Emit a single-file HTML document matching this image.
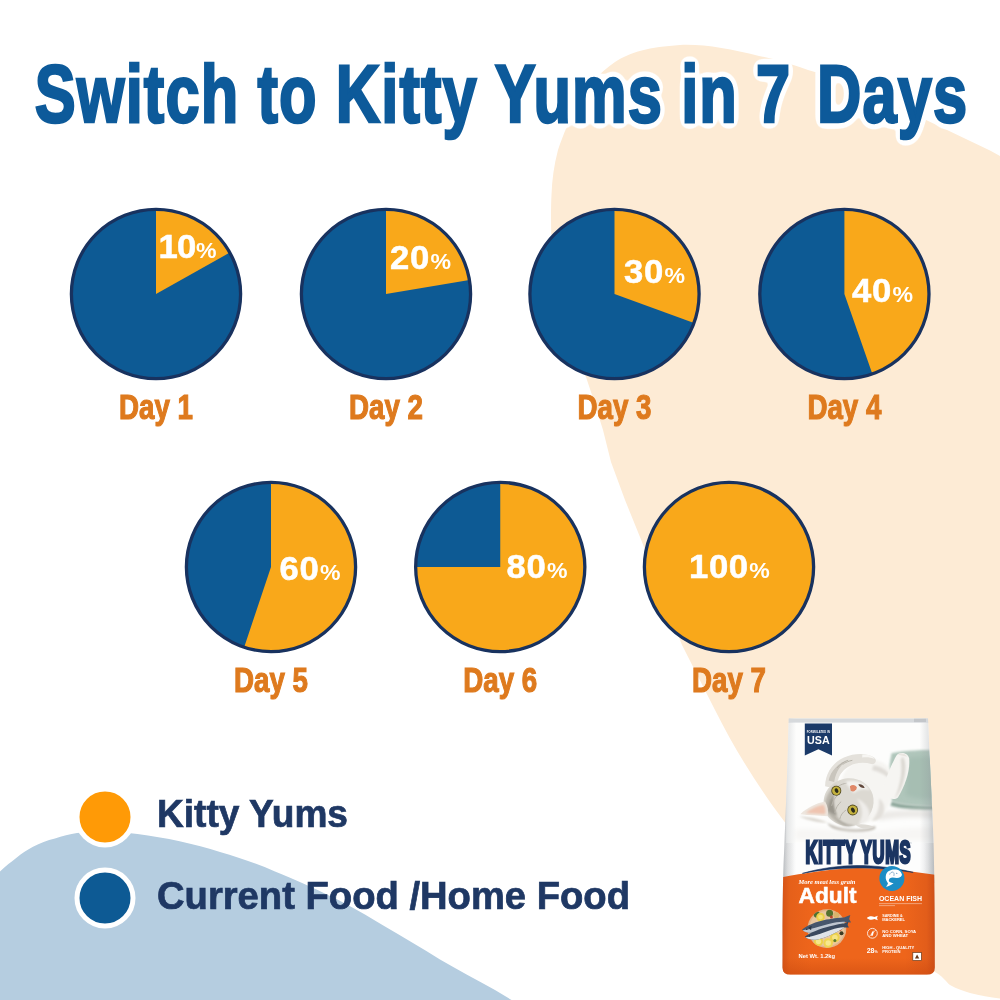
<!DOCTYPE html>
<html lang="en"><head><meta charset="utf-8"><title>Switch to Kitty Yums in 7 Days</title>
<style>
html,body{margin:0;padding:0;background:#fff;}
body{width:1000px;height:1000px;overflow:hidden;font-family:"Liberation Sans",Arial,sans-serif;}
svg{display:block}
</style></head><body>
<svg width="1000" height="1000" viewBox="0 0 1000 1000">
<defs>
<filter id="ft" x="-3%" y="-30%" width="106%" height="160%" color-interpolation-filters="sRGB">
<feGaussianBlur in="SourceAlpha" stdDeviation="5.2 4" result="w1"/>
<feComponentTransfer in="w1" result="w2"><feFuncA type="linear" slope="20" intercept="-1.3"/></feComponentTransfer>
<feFlood flood-color="#fff"/><feComposite in2="w2" operator="in" result="w"/>
<feMerge><feMergeNode in="w"/><feMergeNode in="SourceGraphic"/></feMerge>
</filter>
</defs>
<rect width="1000" height="1000" fill="#fff"/>

<path fill="#fdebd5" d="M1000 156 L990 150.5 L924 119 C 880 98 840 78 808 70 C 790 64 775 59 759 56 C 730 49 705 44 680 45 C 650 47 630 52 615 62 C 598 74 588 86 580 100 C 570 118 563 135 558 150 C 554 165 552 180 551.5 195 C 550.5 215 551 240 553 260 C 555 280 557 295 560 310 C 563 325 567 338 572 350 C 577 362 582 370 586 377 L 592 395 L 603 430 L 611 462 L 625 500 L 642 542 L 662 595 L 682 645 L 715 710 C 735 750 760 790 787 825 C 815 862 850 912 890 948 C 905 961 920 968 934 971.5 C 942 975 946 982 950 985 C 957 989 964 991 970 993 C 980 995.5 990 997.5 1000 998.5 Z"/>
<path fill="#b5cde0" d="M0 871.5 C 6 866 11 862 16.5 857.8 C 22 853 27 850 33 846.8 C 40 843 47 840.5 55 838.5 C 62 836 70 834 77 833 C 97 831 117 831.5 137.5 834 C 165 837.5 195 844 220 852 C 240 858 258 864 275 871.5 C 295 879.5 312 887 330 896 C 350 905.5 367 915.5 385 926.5 C 403 937 422 948 440 959.5 C 458 970 477 980 495 990 L 511.5 1000 L 0 1000 Z"/>
<g transform="translate(34.8 121.5) scale(0.7485 1)"><text x="0" y="0" font-family="Liberation Sans, Arial, Helvetica, sans-serif" font-weight="700" font-size="82" letter-spacing="1.5" fill="#0d5a9a" stroke="#0d5a9a" stroke-width="2.6" stroke-linejoin="miter" filter="url(#ft)">Switch to Kitty Yums in 7 <tspan dx="10">Days</tspan></text></g>
<circle cx="156" cy="294" r="84.6" fill="#0d5a94"/>
<path d="M156 294 L156 209.4 A84.6 84.6 0 0 1 229.78 252.60 Z" fill="#f9a81a"/>
<circle cx="156" cy="294" r="84.6" fill="none" stroke="#18325f" stroke-width="3.3"/>
<g transform="translate(158.5 257.7) scale(1.05 1)"><text x="0" y="0" fill="#fff" font-family="Liberation Sans, Arial, Helvetica, sans-serif" font-weight="700" font-size="33" letter-spacing="-0.8" stroke="#fff" stroke-width="0.5">10<tspan font-size="22" dx="0.6" stroke-width="0">%</tspan></text></g>
<g transform="translate(156 420) scale(0.77 1)"><text x="0" y="-1.4" text-anchor="middle" fill="#de7a1e" stroke="#de7a1e" stroke-width="1.2" font-family="Liberation Sans, Arial, Helvetica, sans-serif" font-weight="700" font-size="36">Day 1</text></g>
<circle cx="386" cy="294" r="84.6" fill="#0d5a94"/>
<path d="M386 294 L386 209.4 A84.6 84.6 0 0 1 469.42 279.89 Z" fill="#f9a81a"/>
<circle cx="386" cy="294" r="84.6" fill="none" stroke="#18325f" stroke-width="3.3"/>
<g transform="translate(390 269.2) scale(1.05 1)"><text x="0" y="0" fill="#fff" font-family="Liberation Sans, Arial, Helvetica, sans-serif" font-weight="700" font-size="33" letter-spacing="0.6" stroke="#fff" stroke-width="0.5">20<tspan font-size="22" dx="0.6" stroke-width="0">%</tspan></text></g>
<g transform="translate(386 420) scale(0.77 1)"><text x="0" y="-1.4" text-anchor="middle" fill="#de7a1e" stroke="#de7a1e" stroke-width="1.2" font-family="Liberation Sans, Arial, Helvetica, sans-serif" font-weight="700" font-size="36">Day 2</text></g>
<circle cx="614.5" cy="294" r="84.6" fill="#0d5a94"/>
<path d="M614.5 294 L614.5 209.4 A84.6 84.6 0 0 1 694.00 322.93 Z" fill="#f9a81a"/>
<circle cx="614.5" cy="294" r="84.6" fill="none" stroke="#18325f" stroke-width="3.3"/>
<g transform="translate(624 283.45) scale(1.05 1)"><text x="0" y="0" fill="#fff" font-family="Liberation Sans, Arial, Helvetica, sans-serif" font-weight="700" font-size="33" letter-spacing="0.6" stroke="#fff" stroke-width="0.5">30<tspan font-size="22" dx="0.6" stroke-width="0">%</tspan></text></g>
<g transform="translate(614.5 420) scale(0.77 1)"><text x="0" y="-1.4" text-anchor="middle" fill="#de7a1e" stroke="#de7a1e" stroke-width="1.2" font-family="Liberation Sans, Arial, Helvetica, sans-serif" font-weight="700" font-size="36">Day 3</text></g>
<circle cx="844.4" cy="294" r="84.6" fill="#0d5a94"/>
<path d="M844.4 294 L844.4 209.4 A84.6 84.6 0 0 1 872.29 373.87 Z" fill="#f9a81a"/>
<circle cx="844.4" cy="294" r="84.6" fill="none" stroke="#18325f" stroke-width="3.3"/>
<g transform="translate(852 302.2) scale(1.05 1)"><text x="0" y="0" fill="#fff" font-family="Liberation Sans, Arial, Helvetica, sans-serif" font-weight="700" font-size="33" letter-spacing="0.6" stroke="#fff" stroke-width="0.5">40<tspan font-size="22" dx="0.6" stroke-width="0">%</tspan></text></g>
<g transform="translate(844.4 420) scale(0.77 1)"><text x="0" y="-1.4" text-anchor="middle" fill="#de7a1e" stroke="#de7a1e" stroke-width="1.2" font-family="Liberation Sans, Arial, Helvetica, sans-serif" font-weight="700" font-size="36">Day 4</text></g>
<circle cx="271" cy="567" r="84.6" fill="#0d5a94"/>
<path d="M271 567 L271 482.4 A84.6 84.6 0 1 1 244.16 647.23 Z" fill="#f9a81a"/>
<circle cx="271" cy="567" r="84.6" fill="none" stroke="#18325f" stroke-width="3.3"/>
<g transform="translate(279.5 580.45) scale(1.05 1)"><text x="0" y="0" fill="#fff" font-family="Liberation Sans, Arial, Helvetica, sans-serif" font-weight="700" font-size="33" letter-spacing="0.6" stroke="#fff" stroke-width="0.5">60<tspan font-size="22" dx="0.6" stroke-width="0">%</tspan></text></g>
<g transform="translate(271 693) scale(0.77 1)"><text x="0" y="-1.4" text-anchor="middle" fill="#de7a1e" stroke="#de7a1e" stroke-width="1.2" font-family="Liberation Sans, Arial, Helvetica, sans-serif" font-weight="700" font-size="36">Day 5</text></g>
<circle cx="500.25" cy="567" r="84.6" fill="#0d5a94"/>
<path d="M500.25 567 L500.25 482.4 A84.6 84.6 0 1 1 415.65 567.00 Z" fill="#f9a81a"/>
<circle cx="500.25" cy="567" r="84.6" fill="none" stroke="#18325f" stroke-width="3.3"/>
<g transform="translate(506.5 578.45) scale(1.05 1)"><text x="0" y="0" fill="#fff" font-family="Liberation Sans, Arial, Helvetica, sans-serif" font-weight="700" font-size="33" letter-spacing="0.6" stroke="#fff" stroke-width="0.5">80<tspan font-size="22" dx="0.6" stroke-width="0">%</tspan></text></g>
<g transform="translate(500.25 693) scale(0.77 1)"><text x="0" y="-1.4" text-anchor="middle" fill="#de7a1e" stroke="#de7a1e" stroke-width="1.2" font-family="Liberation Sans, Arial, Helvetica, sans-serif" font-weight="700" font-size="36">Day 6</text></g>
<circle cx="729" cy="567" r="84.6" fill="#f9a81a"/>
<circle cx="729" cy="567" r="84.6" fill="none" stroke="#18325f" stroke-width="3.3"/>
<g transform="translate(689 578.45) scale(1.05 1)"><text x="0" y="0" fill="#fff" font-family="Liberation Sans, Arial, Helvetica, sans-serif" font-weight="700" font-size="33" letter-spacing="0.6" stroke="#fff" stroke-width="0.5">100<tspan font-size="22" dx="0.6" stroke-width="0">%</tspan></text></g>
<g transform="translate(729 693) scale(0.77 1)"><text x="0" y="-1.4" text-anchor="middle" fill="#de7a1e" stroke="#de7a1e" stroke-width="1.2" font-family="Liberation Sans, Arial, Helvetica, sans-serif" font-weight="700" font-size="36">Day 7</text></g>
<circle cx="105" cy="817" r="28" fill="#ff9a06" stroke="#fff" stroke-width="5"/>
<circle cx="105" cy="898" r="28" fill="#0d5a94" stroke="#fff" stroke-width="5"/>
<text x="157" y="827" font-family="Liberation Sans, Arial, Helvetica, sans-serif" font-weight="700" font-size="38" fill="#1f3864" stroke="#1f3864" stroke-width="0.7" textLength="191" lengthAdjust="spacingAndGlyphs">Kitty Yums</text>
<text x="157" y="908.6" font-family="Liberation Sans, Arial, Helvetica, sans-serif" font-weight="700" font-size="38" fill="#1f3864" stroke="#1f3864" stroke-width="0.7" textLength="473" lengthAdjust="spacingAndGlyphs">Current Food /Home Food</text>
<defs>
<clipPath id="bagclip"><path d="M788.8 718.6 L928 718.6 C929 745 931.4 790 933 828 C934.2 858 934.8 900 934.8 940 L934.8 967.5 Q934.8 974.6 926.8 974.6 L790.5 974.6 Q782.5 974.6 782.5 967.5 L782.5 940 C782.5 900 783.2 868 784.4 845 C786 805 788 755 788.8 718.6 Z"/></clipPath>
<linearGradient id="bagw" x1="0" x2="1" y1="0" y2="0">
<stop offset="0" stop-color="#cfd1d3"/><stop offset="0.035" stop-color="#ececec"/><stop offset="0.09" stop-color="#fdfdfd"/><stop offset="0.9" stop-color="#fdfdfd"/><stop offset="0.955" stop-color="#e9e9e9"/><stop offset="1" stop-color="#c9cacc"/>
</linearGradient>
<linearGradient id="bago" x1="0" x2="1" y1="0" y2="0">
<stop offset="0" stop-color="#cf4f17"/><stop offset="0.06" stop-color="#e5601a"/><stop offset="0.2" stop-color="#ee651b"/><stop offset="0.8" stop-color="#ee651b"/><stop offset="0.94" stop-color="#e25d1a"/><stop offset="1" stop-color="#cb4d17"/>
</linearGradient>
<linearGradient id="bagob" x1="0" x2="0" y1="0" y2="1">
<stop offset="0" stop-color="#c9480f" stop-opacity="0"/><stop offset="1" stop-color="#c9480f" stop-opacity="0.55"/>
</linearGradient>
<linearGradient id="bagsh" x1="0" x2="1" y1="0" y2="0">
<stop offset="0" stop-color="#8f959b" stop-opacity="0.5"/><stop offset="0.035" stop-color="#8f959b" stop-opacity="0.2"/><stop offset="0.09" stop-color="#8f959b" stop-opacity="0"/><stop offset="0.9" stop-color="#8f959b" stop-opacity="0"/><stop offset="0.955" stop-color="#8f959b" stop-opacity="0.22"/><stop offset="1" stop-color="#8f959b" stop-opacity="0.55"/>
</linearGradient>
<linearGradient id="bed" x1="0" x2="0" y1="0" y2="1">
<stop offset="0" stop-color="#ffffff"/><stop offset="0.6" stop-color="#fbfaf9"/><stop offset="0.85" stop-color="#f1efec"/><stop offset="1" stop-color="#fafafa"/>
</linearGradient>
<filter id="b1" x="-20%" y="-20%" width="140%" height="140%"><feGaussianBlur stdDeviation="1"/></filter>
<filter id="b2" x="-20%" y="-20%" width="140%" height="140%"><feGaussianBlur stdDeviation="2"/></filter>
<filter id="b07" x="-20%" y="-20%" width="140%" height="140%"><feGaussianBlur stdDeviation="0.7"/></filter>
<filter id="b05" x="-20%" y="-20%" width="140%" height="140%"><feGaussianBlur stdDeviation="0.5"/></filter>
<clipPath id="photoclip"><rect x="782" y="723" width="156" height="119"/></clipPath>
<clipPath id="plate"><circle cx="826.9" cy="928.7" r="19.4"/></clipPath>
</defs>
<g clip-path="url(#bagclip)">
<rect x="780" y="715" width="160" height="285" fill="url(#bagw)"/>
<!-- photo -->
<rect x="786" y="723" width="150" height="120" fill="#fdfdfc"/>
<g clip-path="url(#photoclip)">
<path d="M891.6 753.3 C901.4 750.9 918.2 750.1 935.0 749.8 L935.0 805.8 C921.0 806.5 904.2 805.1 891.6 801.6 C888.1 786.2 888.1 768.0 891.6 753.3 Z" fill="#b0c6bb" filter="url(#b1)"/>
<path d="M907.0 758.2 C916.8 756.1 926.6 756.1 935.0 757.5 L935.0 798.8 C925.2 800.2 914.0 798.8 905.6 795.3 Z" fill="#a6beb2" filter="url(#b2)"/>
<path d="M891.6 801.6 C904.2 805.1 921.0 806.5 935.0 805.8 L935.0 810.0 C919.6 811.4 902.8 809.3 890.2 805.8 Z" fill="#90a99d" filter="url(#b1)"/>
<path d="M827.2 822.6 C837.0 829.6 862.2 831.7 874.8 826.1 C879.0 829.6 867.8 833.1 853.8 833.1 C839.8 832.4 830.0 829.6 827.2 822.6 Z" fill="#c2bdb5" filter="url(#b1)"/>
<path d="M799.2 816.3 C807.6 817.0 818.8 818.4 827.2 822.6 C818.8 822.6 807.6 820.5 799.2 816.3 Z" fill="#d9d5ce" filter="url(#b1)"/>
<path d="M879.0 812.8 C893.0 810.0 914.0 809.3 935.0 810.7 L935.0 818.4 C915.4 816.3 895.8 817.0 879.0 820.5 Z" fill="#ebe9e6" filter="url(#b2)"/>
<path d="M795.0 829.6 C823.0 825.4 851.0 836.6 893.0 829.6 C907.0 827.5 921.0 828.2 935.0 826.8 L935.0 840.0 L795.0 840.0 Z" fill="#f7f6f4" filter="url(#b2)"/>
<path d="M841.2 786.2 C841.2 772.2 851.0 761.0 865.0 759.6 C879.0 758.2 890.2 763.8 893.0 776.4 C895.1 789.0 891.6 803.0 884.6 812.8 C879.0 819.8 870.6 822.6 865.0 821.2 C853.8 807.2 842.6 798.8 841.2 786.2 Z" fill="#f6f5f2" filter="url(#b1)"/>
<path d="M873.4 765.2 C883.2 766.6 890.2 772.2 891.6 780.6 C886.0 775.0 879.0 771.5 872.0 770.1 Z" fill="#e0ddd8" filter="url(#b1)"/>
<path d="M879.0 798.8 C884.6 801.6 886.0 810.0 881.8 817.0 C879.0 819.8 874.8 821.2 872.0 820.5 C877.6 814.2 879.7 807.2 879.0 798.8 Z" fill="#e3e0db" filter="url(#b1)"/>
<path d="M825.1 786.2 C825.1 773.6 832.8 762.4 844.0 757.5 C855.2 752.6 867.8 753.3 874.1 757.5 C877.6 760.3 875.5 764.5 871.3 764.1 C862.2 761.0 851.0 763.1 844.0 770.1 C838.4 775.7 837.0 782.0 837.0 789.0 Z" fill="#e4e1db" filter="url(#b07)"/>
<path d="M828.6 780.6 C830.7 770.8 838.4 763.1 848.2 759.6 C841.2 764.5 835.6 771.5 834.2 782.0 Z" fill="#c9c5bd" filter="url(#b07)"/>
<path d="M837.0 768.0 C839.8 764.5 844.0 761.7 848.2 760.3 M842.6 764.5 C845.4 762.4 848.9 761.0 852.4 760.3" fill="none" stroke="#b9b5ac" stroke-width="1" filter="url(#b05)"/>
<path d="M862.2 754.7 C867.8 754.0 872.7 756.1 874.8 758.9 C871.3 757.5 866.4 756.8 862.2 757.5 Z" fill="#f7f6f3" filter="url(#b07)"/>
<path d="M883.2 787.6 C886.0 777.8 891.6 763.8 896.5 755.4 C900.0 751.2 907.7 752.6 909.1 758.2 C910.5 769.4 905.6 784.8 897.9 797.4 C893.0 801.6 884.6 797.4 883.2 787.6 Z" fill="#f6f5f2" filter="url(#b07)"/>
<path d="M902.8 756.8 C906.3 761.0 906.3 772.2 902.8 783.4 C900.7 790.4 897.2 796.0 894.4 798.8 C899.3 789.0 902.8 773.6 900.7 759.6 Z" fill="#dcd9d3" filter="url(#b1)"/>
<path d="M897.9 754.7 C900.7 752.6 905.6 753.3 907.0 756.8 C904.2 755.7 900.7 755.7 897.9 754.7 Z" fill="#e9e6e1" filter="url(#b07)"/>
<path d="M823.7 801.6 C823.7 790.4 832.8 780.6 845.4 778.5 C858.0 776.7 869.2 783.4 872.7 794.6 C875.9 805.8 870.6 818.4 859.4 824.0 C848.2 828.9 834.2 825.4 827.2 815.6 C824.7 811.4 823.7 806.5 823.7 801.6 Z" fill="#dcd9d2" filter="url(#b07)"/>
<path d="M824.7 805.8 C825.1 797.4 830.0 789.0 837.0 784.1 C832.8 791.8 831.7 800.2 833.5 808.6 C835.6 817.0 841.2 823.3 848.2 826.1 C838.4 825.4 828.6 818.4 824.7 805.8 Z" fill="#b9b5ac" filter="url(#b1)"/>
<path d="M827.9 810.0 C828.6 803.0 830.7 797.4 834.2 792.5 C832.8 800.2 833.5 807.2 837.0 815.6 C832.8 814.2 829.3 812.8 827.9 810.0 Z" fill="#9a968d" filter="url(#b1)"/>
<path d="M837.0 818.4 C841.2 822.6 848.2 825.4 855.2 825.1 C849.6 827.5 841.2 826.1 837.0 818.4 Z" fill="#a5a198" filter="url(#b1)"/>
<path d="M830.0 798.8 C831.7 795.3 834.2 792.1 837.0 789.7 M831.7 805.8 C832.5 801.6 834.9 797.4 838.4 794.6 M834.9 812.8 C835.6 808.6 837.7 804.4 841.2 801.6 M839.8 819.1 C840.5 815.6 842.6 812.1 846.1 810.0 M838.4 786.2 C841.2 784.5 844.0 783.4 847.1 783.1" fill="none" stroke="#b9b5ac" stroke-width="1" filter="url(#b05)"/>
<path d="M845.4 782.0 C853.8 778.5 865.0 782.0 869.9 790.4 C865.0 788.3 858.0 789.0 853.8 793.2 C850.3 789.0 847.5 785.5 845.4 782.0 Z" fill="#f3f2ef" filter="url(#b1)"/>
<path d="M856.6 798.8 C865.0 801.6 871.3 810.0 869.2 818.4 C866.4 822.6 862.2 824.0 858.0 824.4 C863.6 817.0 863.6 807.2 856.6 798.8 Z" fill="#efedea" filter="url(#b1)"/>
<path d="M800.3 814.2 C807.6 807.2 817.4 803.0 825.1 801.6 C827.9 805.8 828.6 811.4 827.5 816.3 C818.8 814.9 809.0 815.6 800.3 814.2 Z" fill="#ede6de" filter="url(#b07)"/>
<path d="M805.5 813.1 C811.1 808.6 818.1 805.5 823.7 804.7 C825.5 807.9 825.8 811.4 825.1 814.2 Z" fill="#efc4b0" filter="url(#b1)"/>
<path d="M855.2 824.7 C862.2 823.7 869.2 824.4 874.1 826.8 C868.5 829.6 860.8 829.3 855.2 824.7 Z" fill="#dedbd5" filter="url(#b07)"/>
<g filter="url(#b05)">
<circle cx="836.3" cy="790.7" r="5" fill="#4e4622"/><circle cx="836.3" cy="790.7" r="4.2" fill="#c4b23f"/><ellipse cx="836.5" cy="790.8" rx="1.7" ry="2.4" fill="#2b2a1c" transform="rotate(-30 836.3 790.7)"/>
<circle cx="852.7" cy="810.0" r="5.4" fill="#4e4622"/><circle cx="852.7" cy="810.0" r="4.6" fill="#c4b23f"/><ellipse cx="852.9" cy="810.2" rx="1.8" ry="2.7" fill="#2b2a1c" transform="rotate(-30 852.7 810.0)"/>
<path d="M849.9 786.2 C852.4 784.1 855.9 784.8 856.9 787.6 C856.2 791.1 853.1 792.5 850.7 790.7 Z" fill="#e08868"/>
<path d="M858.3 784.5 C860.8 783.7 863.6 785.1 864.7 787.9 C862.5 788.3 859.7 787.3 858.3 784.5 Z" fill="#5f463a"/>
</g>
</g>
<rect x="782.5" y="718" width="152.3" height="165" fill="url(#bagsh)"/>
<!-- top seal -->
<rect x="785" y="718" width="150" height="4.6" fill="#d6d9dc"/>
<rect x="914" y="718.5" width="12" height="3.6" fill="#c3c6ca"/>
<!-- USA badge -->
<path d="M804.8 723.6 H832 V755.6 L818.4 749.2 L804.8 755.6Z" fill="#1b3a68"/>
<text x="818.4" y="733.4" text-anchor="middle" font-family="Liberation Sans, Arial, sans-serif" font-weight="700" font-size="2.6" fill="#fff" letter-spacing="0.15">FORMULATED IN</text>
<text x="818.4" y="744.1" text-anchor="middle" font-family="Liberation Sans, Arial, sans-serif" font-weight="700" font-size="10.6" fill="#fff" textLength="22.6" lengthAdjust="spacingAndGlyphs">USA</text>
<!-- orange area -->
<path d="M780 877.6 C800 874 830 868.6 857 868 C885 868 912 871.2 936 875 L936 980 L780 980Z" fill="url(#bago)"/>
<rect x="780" y="958" width="160" height="18" fill="url(#bagob)"/>
<!-- navy arc -->
<path d="M802.4 873.4 C820 868.2 840 865.7 857 865.5 C875 865.5 896 867.8 913.2 872.4 C896 869.6 876 867.8 857 867.9 C838 868 820 869.8 802.4 873.4Z" fill="#1b3562" stroke="#1b3562" stroke-width="0.6"/>
<!-- brand -->
<g transform="translate(805.6 862.6) scale(0.535 1)"><text x="0" y="0" font-family="Liberation Sans, Arial, sans-serif" font-weight="700" font-size="31" letter-spacing="1.2" word-spacing="-1" fill="#1b3562" stroke="#1b3562" stroke-width="3" stroke-linejoin="miter">KITTY YUMS</text></g>
<text x="910" y="843.5" font-family="Liberation Sans, Arial, sans-serif" font-size="2.4" fill="#1b3562">®</text>
<!-- blue fish badge -->
<circle cx="891.9" cy="878.4" r="12.5" fill="#1c8dc5"/>
<path d="M902 874.8 C901.6 873 901 872 900 871.2 C898.8 870.2 897.4 869.7 896 869.6 C894.4 869.4 892.8 869.5 891.2 870 C890 870.4 888.8 870.9 888 871.6 C887 872.5 886.3 873.6 886 874.8 C885.7 876.1 885.6 877.5 885.8 878.8 C886 880 886.6 881.1 887.2 882 C887.5 882.6 887.8 883.1 888 883.6 C887.6 884.8 886.8 885.8 886 886.8 C887 886.6 887.9 886.3 888.8 886 C890.5 885.3 892.1 884.3 893.6 883.2 C892.2 883 890.8 882.6 889.6 882 C889.1 881.5 888.9 881 888.8 880.4 C888.8 879.6 889.1 878.9 889.6 878.4 C890.5 877.8 891.6 877.6 892.8 877.6 C894.1 877.7 895.4 878 896.8 878 C898.2 878 899.6 877.6 900.8 876.8 C901.4 876.3 901.8 875.6 902 874.8Z" fill="#fff"/>
<circle cx="896.8" cy="873.3" r="0.55" fill="#1c6fa5"/>
<path d="M889.6 874.6 C890 873 891.4 871.9 893.2 872 M893.6 872.4 C894.2 873.6 894.2 875 893.8 876" stroke="#2a6fa0" stroke-width="0.5" fill="none"/>
<!-- texts on orange -->
<text x="798.4" y="883.6" font-family="Liberation Serif, serif" font-style="italic" font-weight="700" font-size="5.6" fill="#fff" textLength="57" lengthAdjust="spacingAndGlyphs">More meat less grain</text>
<text x="798.6" y="902.8" font-family="Liberation Sans, Arial, sans-serif" font-weight="700" font-size="21.4" fill="#fff" stroke="#fff" stroke-width="0.5" textLength="58" lengthAdjust="spacingAndGlyphs">Adult</text>
<text x="878.9" y="900.7" font-family="Liberation Sans, Arial, sans-serif" font-weight="700" font-size="6.9" fill="#fff" textLength="43.2" lengthAdjust="spacingAndGlyphs">OCEAN FISH</text>
<rect x="879" y="903.2" width="43" height="0.9" fill="#fff" opacity="0.45"/>
<rect x="879" y="905.2" width="16" height="0.9" fill="#fff" opacity="0.45"/>
<!-- plate -->
<circle cx="826.9" cy="928.7" r="19.4" fill="#e3b48a"/>
<g clip-path="url(#plate)" filter="url(#b05)">
<circle cx="826.9" cy="928.7" r="17.6" fill="#e9c7a0"/>
<circle cx="816.7" cy="914.4" r="3.1" fill="#4f7030"/>
<circle cx="829.6" cy="913.3" r="3.5" fill="#55722f"/>
<circle cx="820.5" cy="917.1" r="4.3" fill="#ecd04a"/>
<circle cx="820.5" cy="917.1" r="2.4" fill="#f5e27a"/>
<circle cx="836.3" cy="915.0" r="3.1" fill="#d9b36c"/>
<circle cx="831.4" cy="917.1" r="1.5" fill="#b8442a"/>
<circle cx="818.5" cy="941.6" r="4.6" fill="#ecd04a"/>
<circle cx="818.5" cy="941.6" r="2.7" fill="#f6e68a"/>
<circle cx="828.2" cy="943.0" r="4.8" fill="#efd552"/>
<circle cx="828.2" cy="943.0" r="2.7" fill="#f7e88f"/>
<circle cx="834.9" cy="937.5" r="4.9" fill="#edd24e"/>
<circle cx="834.9" cy="937.5" r="2.8" fill="#f6e585"/>
<circle cx="834.9" cy="940.6" r="1.5" fill="#5a7a30"/>
<circle cx="841.5" cy="933.2" r="2.0" fill="#3c3a22"/>
<circle cx="839.8" cy="929.4" r="1.7" fill="#c9603a"/>
</g>
<g filter="url(#b05)">
<path d="M802.0 929.8 C806.2 925.9 816.0 921.7 826.5 919.6 C834.2 918.1 840.5 917.5 844.0 917.4 L850.3 915.0 L849.2 918.9 L851.0 922.4 L845.4 922.0 C839.8 925.2 828.6 929.4 818.8 931.9 C811.8 933.6 805.5 932.9 802.0 929.8 Z" fill="#46566c"/>
<path d="M802.7 930.2 C809.0 929.8 818.8 927.0 828.6 924.1 C835.6 922.3 841.9 921.4 845.4 922.0 C839.8 925.2 828.6 929.4 818.8 931.9 C811.8 933.6 805.5 932.9 802.7 930.2 Z" fill="#bfc6d0"/>
<path d="M808.3 927.6 C809.4 926.6 810.8 926.0 811.8 925.9 C811.2 927.3 811.0 928.7 811.2 930.1 C810.0 929.8 809.0 928.8 808.3 927.6 Z" fill="#2c3644"/>
<path d="M804.8 936.8 C809.7 932.5 820.2 928.7 830.0 926.2 C836.3 924.6 841.2 923.8 844.0 923.5 L848.5 921.4 L847.6 924.9 L848.9 927.6 L844.4 927.4 C839.8 930.8 830.0 935.7 821.6 938.5 C814.6 940.6 808.0 939.9 804.8 936.8 Z" fill="#3a4a5e"/>
<path d="M805.5 937.2 C811.8 937.1 821.6 933.6 830.7 930.1 C837.0 927.9 841.9 927.0 844.4 927.4 C839.8 930.8 830.0 935.7 821.6 938.5 C814.6 940.6 808.3 939.9 805.5 937.2 Z" fill="#dfe3e8"/>
<circle cx="806.8" cy="929.3" r="0.6" fill="#11161c"/>
<circle cx="809.4" cy="936.0" r="0.6" fill="#11161c"/>
</g>
<text x="798.5" y="957.7" font-family="Liberation Sans, Arial, sans-serif" font-weight="700" font-size="5.9" fill="#fff" textLength="36.7" lengthAdjust="spacingAndGlyphs">Net Wt. 1.2kg</text>
<!-- right column -->
<path d="M866.8 918 C868.6 916 872 915.6 874.4 917 L877.8 915.8 L877 918 L877.8 920.2 L874.4 919 C872 920.4 868.6 920 866.8 918Z" fill="#fff"/>
<text font-family="Liberation Sans, Arial, sans-serif" font-weight="700" font-size="3.7" fill="#fff"><tspan x="882.2" y="916.8" textLength="20.5" lengthAdjust="spacingAndGlyphs">SARDINE &amp;</tspan><tspan x="882.2" y="921" textLength="22.8" lengthAdjust="spacingAndGlyphs">MACKEREL</tspan></text>
<circle cx="872.4" cy="933.3" r="4.9" fill="none" stroke="#fff" stroke-width="0.8"/>
<path d="M869 936.7 L875.8 929.9" stroke="#fff" stroke-width="0.7"/>
<path d="M871.4 936 C871 934 871.6 932 873.4 930.6 C873.8 932.6 873.4 934.6 872.4 936Z" fill="#fff"/>
<text font-family="Liberation Sans, Arial, sans-serif" font-weight="700" font-size="3.7" fill="#fff"><tspan x="882.2" y="933.2" textLength="34" lengthAdjust="spacingAndGlyphs">NO CORN, SOYA</tspan><tspan x="882.2" y="937.3" textLength="26" lengthAdjust="spacingAndGlyphs">AND WHEAT</tspan></text>
<text x="866.7" y="952.8" font-family="Liberation Sans, Arial, sans-serif" font-weight="700" font-size="7" fill="#fff">28<tspan font-size="3.6">%</tspan></text>
<text font-family="Liberation Sans, Arial, sans-serif" font-weight="700" font-size="3.7" fill="#fff"><tspan x="882.2" y="949.4" textLength="32" lengthAdjust="spacingAndGlyphs">HIGH - QUALITY</tspan><tspan x="882.2" y="953.3" textLength="18.3" lengthAdjust="spacingAndGlyphs">PROTEIN</tspan></text>
<rect x="912.8" y="952.5" width="8.6" height="8" fill="#fff" stroke="#6a3a1a" stroke-width="0.7"/>
<path d="M917.1 954.6 L919.3 958.6 L914.9 958.6Z" fill="#6a3a1a"/>
</g>

</svg></body></html>
